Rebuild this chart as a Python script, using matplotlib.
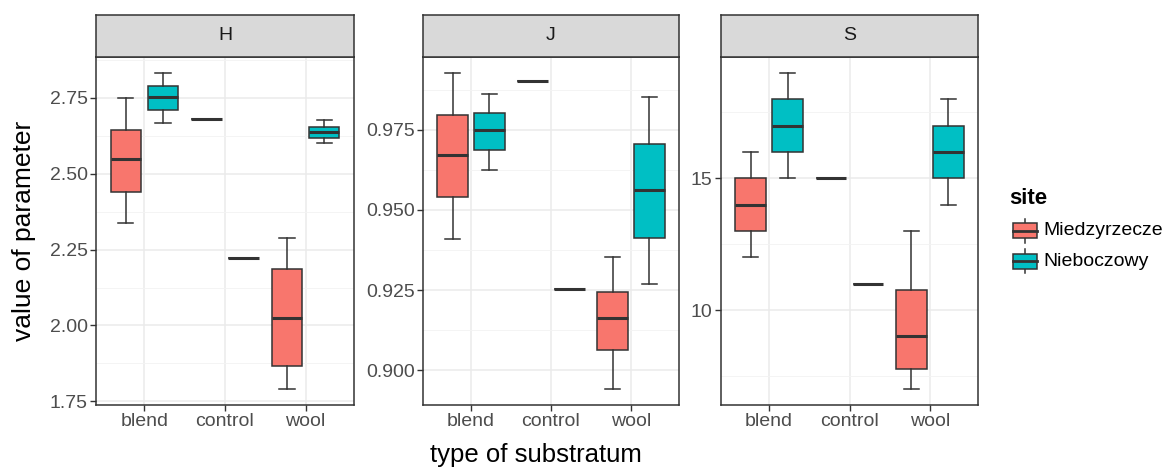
import matplotlib
matplotlib.use('Agg')
import matplotlib.pyplot as plt
from matplotlib.patches import Rectangle

plt.rcParams['font.family'] = ['Liberation Sans', 'DejaVu Sans']

# data: [whisker low, Q1, median, Q3, whisker high]
categories = ['blend', 'control', 'wool']
sites = ['Miedzyrzecze', 'Nieboczowy']
site_colors = ['#F8766D', '#00BFC4']

H_mied = [[2.337, 2.440, 2.549, 2.646, 2.750],
          [2.681, 2.681, 2.681, 2.681, 2.681],
          [1.790, 1.867, 2.025, 2.187, 2.290]]
H_nieb = [[2.669, 2.709, 2.752, 2.791, 2.833],
          [2.221, 2.221, 2.221, 2.221, 2.221],
          [2.600, 2.619, 2.639, 2.656, 2.679]]

J_mied = [[0.9409, 0.9539, 0.9671, 0.9797, 0.9927],
          [0.9900, 0.9900, 0.9900, 0.9900, 0.9900],
          [0.8941, 0.9064, 0.9162, 0.9245, 0.9353]]
J_nieb = [[0.9625, 0.9685, 0.9748, 0.9801, 0.9861],
          [0.9252, 0.9252, 0.9252, 0.9252, 0.9252],
          [0.9268, 0.9413, 0.9562, 0.9706, 0.9853]]

S_mied = [[12, 13, 14, 15, 16],
          [15, 15, 15, 15, 15],
          [7, 7.75, 9, 10.75, 13]]
S_nieb = [[15, 16, 17, 18, 19],
          [11, 11, 11, 11, 11],
          [14, 15, 16, 17, 18]]

H_ticks = [1.75, 2.00, 2.25, 2.50, 2.75]
J_ticks = [0.900, 0.925, 0.950, 0.975]
S_ticks = [10, 15]

panels = [
    ('H', H_mied, H_nieb, H_ticks, '{:.2f}', 96, 354),
    ('J', J_mied, J_nieb, J_ticks, '{:.3f}', 423, 679),
    ('S', S_mied, S_nieb, S_ticks, '{:.0f}', 721, 978),
]

W, Hpx = 1170, 470
DARK = '#333333'
GRID = '#EBEBEB'


def frac(l, t, r, b):
    return [l / W, 1 - b / Hpx, (r - l) / W, (b - t) / Hpx]


fig = plt.figure(figsize=(11.7, 4.7), dpi=100)

for name, mied, nieb, ticks, fmt, left, right in panels:
    ax = fig.add_axes(frac(left, 57, right, 405))
    strip = fig.add_axes(frac(left, 15, right, 57))

    step = ticks[1] - ticks[0]
    minors = [ticks[0] - step / 2] + [t + step / 2 for t in ticks]
    ax.set_yticks(ticks)
    ax.set_yticklabels([fmt.format(t) for t in ticks])
    ax.set_yticks(minors, minor=True)
    ax.set_xticks([1, 2, 3])
    ax.set_xticklabels(categories)

    # limits after ticks, so the minor ticks do not widen the view
    allv = [v for grp in mied + nieb for v in grp]
    lo, hi = min(allv), max(allv)
    pad = (hi - lo) * 0.05
    ax.set_ylim(lo - pad, hi + pad)
    ax.set_xlim(0.4, 3.6)

    ax.grid(True, which='major', color=GRID, lw=1.1, zorder=0)
    ax.grid(True, which='minor', axis='y', color='#F3F3F3', lw=0.6, zorder=0)
    ax.tick_params(axis='y', which='minor', length=0)
    ax.tick_params(which='major', length=4, width=1.0, color=DARK,
                   labelcolor='#4D4D4D', labelsize=14, pad=2)
    ax.set_axisbelow(True)
    for sp in ax.spines.values():
        sp.set_color(DARK)
        sp.set_linewidth(1.1)

    for k, (grp, off) in enumerate([(mied, -0.23), (nieb, 0.23)]):
        stats = [dict(whislo=g[0], q1=g[1], med=g[2], q3=g[3], whishi=g[4])
                 for g in grp]
        ax.bxp(stats, positions=[i + 1 + off for i in range(len(grp))],
               widths=0.38, capwidths=0.19, showfliers=False,
               patch_artist=True, manage_ticks=False,
               boxprops=dict(facecolor=site_colors[k], edgecolor=DARK, lw=1.1),
               medianprops=dict(color=DARK, lw=2.2, solid_capstyle='butt'),
               whiskerprops=dict(color=DARK, lw=1.1),
               capprops=dict(color=DARK, lw=1.1))
    ax.set_ylim(lo - pad, hi + pad)
    ax.set_xlim(0.4, 3.6)

    strip.set_facecolor('#D9D9D9')
    strip.set_xticks([])
    strip.set_yticks([])
    for sp in strip.spines.values():
        sp.set_color(DARK)
        sp.set_linewidth(1.1)
    strip.text(0.5, 0.5, name, ha='center', va='center', fontsize=14,
               color='#1A1A1A', transform=strip.transAxes)

fig.text(24 / W, 1 - 231 / Hpx, 'value of parameter', rotation=90,
         ha='center', va='center', fontsize=19, color='black')
fig.text(536 / W, 1 - 455 / Hpx, 'type of substratum', ha='center',
         va='center', fontsize=18.5, color='black')

# legend drawn in a pixel-based axes
lg = fig.add_axes(frac(1000, 180, 1170, 285))
lg.set_xlim(1000, 1170)
lg.set_ylim(285, 180)
lg.axis('off')
lg.text(1009, 198, 'site', ha='left', va='center', fontsize=16,
        fontweight='bold', color='black')
for k, (lab, yc) in enumerate(zip(sites, [230.5, 261])):
    lg.plot([1025, 1025], [yc - 12, yc + 12], color=DARK, lw=1.1)
    lg.add_patch(Rectangle((1013, yc - 7.5), 24, 15, facecolor=site_colors[k],
                           edgecolor=DARK, lw=1.1, zorder=3))
    lg.plot([1013, 1037], [yc, yc], color=DARK, lw=2.0, zorder=4)
    lg.text(1043, yc, lab, ha='left', va='center', fontsize=14, color='black')

fig.savefig('out.png', dpi=100)
